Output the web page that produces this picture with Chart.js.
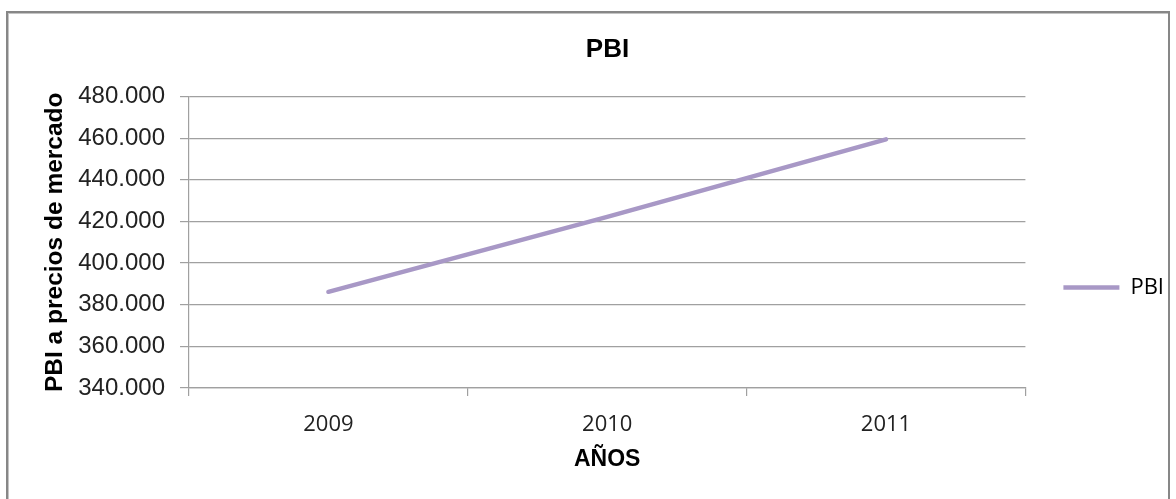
<!DOCTYPE html>
<html>
<head>
<meta charset="utf-8">
<script src="https://cdn.jsdelivr.net/npm/chart.js@4.4.0/dist/chart.umd.min.js"></script>
<style>
  html, body { margin: 0; padding: 0; background: #ffffff; overflow: hidden; }
  #wrap { position: relative; width: 1176px; height: 499px; }
  #frame { position: absolute; left: 6px; top: 11px; width: 1160px; height: 500px;
           border: 2px solid #878787; box-shadow: inset 1px 1px 0 #c4c4c4; pointer-events: none; }
  canvas { position: absolute; left: 0; top: 0; }
</style>
</head>
<body>
<div id="wrap">
  <canvas id="c" width="1176" height="499"></canvas>
  <div id="frame"></div>
</div>
<script>
const titleText = 'PBI';
const xTitle = 'AÑOS';
const yTitle = 'PBI a precios de mercado';
const seriesName = 'PBI';
const years = ['2009', '2010', '2011'];
const pbiValues = [386200, 422200, 459400];
const yMin = 340000;
const yMax = 480000;
const yStep = 20000;

function fmt(v) {
  return String(Math.round(v)).replace(/\B(?=(\d{3})+(?!\d))/g, '.');
}

const gridColor = '#a0a0a0';
const lineColor = '#a898c6';

new Chart(document.getElementById('c'), {
  type: 'line',
  data: {
    labels: years,
    datasets: [{
      label: seriesName,
      data: pbiValues,
      borderColor: lineColor,
      backgroundColor: lineColor,
      borderWidth: 4.5,
      borderCapStyle: 'round',
      pointRadius: 0,
      pointHoverRadius: 0,
      tension: 0,
      fill: false
    }]
  },
  options: {
    responsive: false,
    animation: false,
    devicePixelRatio: 1,
    layout: { padding: { left: 41, right: 2, top: 34, bottom: 26 } },
    plugins: {
      title: {
        display: true,
        text: titleText,
        color: '#000',
        font: { family: 'Liberation Sans', size: 26, weight: 'bold' },
        padding: { top: 0, bottom: 31.3 }
      },
      legend: {
        position: 'right',
        title: {
          display: true,
          text: '',
          font: { size: 10 },
          padding: { top: 56, bottom: 0 }
        },
        labels: {
          usePointStyle: true,
          pointStyle: 'line',
          pointStyleWidth: 56,
          boxHeight: 10,
          color: '#000',
          font: { family: 'Open Sans', size: 22 },
          padding: 38
        }
      },
      tooltip: { enabled: false }
    },
    scales: {
      x: {
        type: 'category',
        offset: true,
        afterFit: (scale) => { scale.height = 85; },
        grid: {
          offset: true,
          drawOnChartArea: false,
          drawTicks: true,
          tickLength: 8,
          color: gridColor,
          lineWidth: 1.2
        },
        border: { display: true, color: gridColor, width: 1.2 },
        ticks: {
          color: '#222',
          font: { family: 'Open Sans', size: 22 },
          padding: 16,
          maxRotation: 0
        },
        title: {
          display: true,
          text: xTitle,
          color: '#000',
          font: { family: 'Liberation Sans', size: 23, weight: 'bold' },
          padding: { top: 0, bottom: 0 }
        }
      },
      y: {
        min: yMin,
        max: yMax,
        afterFit: (scale) => { scale.width = 148; },
        ticks: {
          stepSize: yStep,
          color: '#222',
          font: { family: 'Liberation Sans', size: 24 },
          padding: 15,
          callback: (v) => fmt(v)
        },
        grid: {
          color: gridColor,
          lineWidth: 1.2,
          drawTicks: true,
          tickLength: 9
        },
        border: { display: true, color: gridColor, width: 1.2 },
        title: {
          display: true,
          text: yTitle,
          color: '#000',
          font: { family: 'Liberation Sans', size: 24.5, weight: 'bold' },
          padding: { top: 0, bottom: 0 }
        }
      }
    }
  }
});
</script>
</body>
</html>
